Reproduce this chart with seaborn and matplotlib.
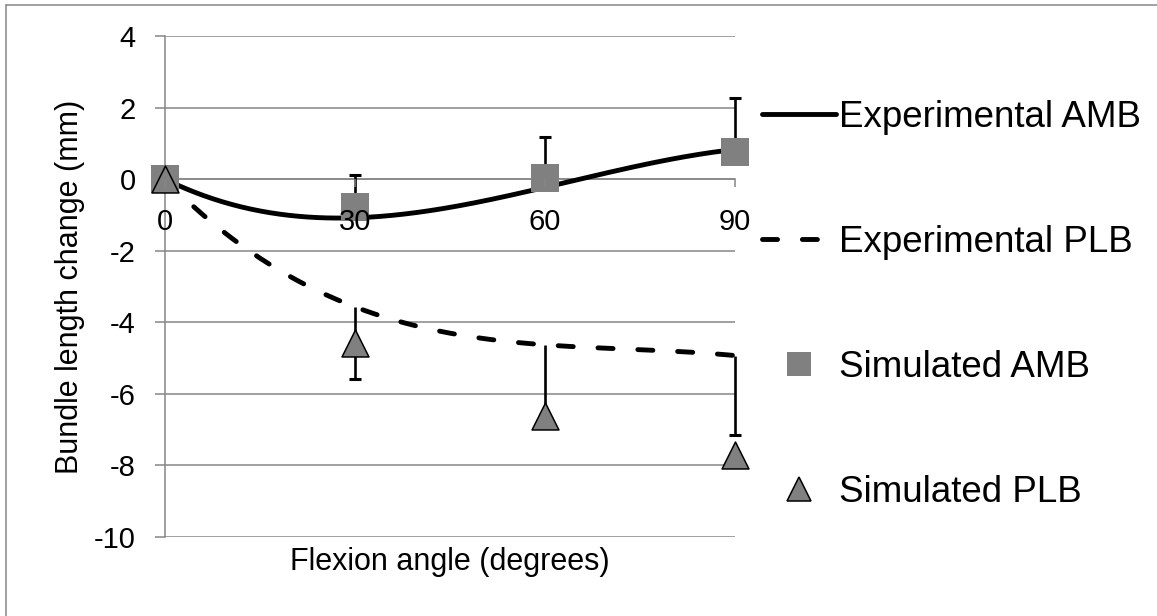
import numpy as np
import matplotlib
matplotlib.use("Agg")
import matplotlib.pyplot as plt
import seaborn as sns
from matplotlib.lines import Line2D

# ---- data ----
angles = [0, 30, 60, 90]
exp_amb = [0.0, -1.08, -0.23, 0.83]
exp_amb_err_plus = [0.0, 1.19, 1.40, 1.44]
exp_plb = [0.0, -3.57, -4.63, -4.93]
exp_plb_err_minus = [0.0, 2.02, 1.95, 2.21]
sim_amb = [0.0, -0.79, 0.02, 0.76]
sim_plb = [0.0, -4.59, -6.62, -7.71]
x_ticks = [0, 30, 60, 90]
y_ticks = [4, 2, 0, -2, -4, -6, -8, -10]
labels = ["Experimental AMB", "Experimental PLB", "Simulated AMB", "Simulated PLB"]


def smooth(x, y, n=300):
    """Smoothed rendering of a line through the given points (exact interpolating cubic)."""
    x = np.asarray(x, float)
    y = np.asarray(y, float)
    coef = np.polyfit(x, y, len(x) - 1)
    xs = np.linspace(x[0], x[-1], n)
    return xs, np.polyval(coef, xs)


sns.set_theme(style="white")
plt.rcParams["font.family"] = ["Liberation Sans", "DejaVu Sans"]
plt.rcParams["axes.unicode_minus"] = False
plt.rcParams["text.color"] = "black"

GRAY = "#868686"
MARK = "#808080"
W, H = 1157, 616
fig = plt.figure(figsize=(W / 100, H / 100), dpi=100)
fig.patch.set_facecolor("white")
ax = fig.add_axes([165 / W, 1 - 537 / H, (735 - 165) / W, (537 - 36) / H])
ax.set_facecolor("white")

LW = 3.5
DASH = (0, (3.1, 5.1))

xs, ys = smooth(angles, exp_amb)
sns.lineplot(x=xs, y=ys, ax=ax, color="black", lw=LW, sort=False, estimator=None,
             zorder=2, solid_capstyle="round")
xs, ys = smooth(angles, exp_plb)
sns.lineplot(x=xs, y=ys, ax=ax, color="black", lw=LW, sort=False, estimator=None,
             zorder=2, linestyle=DASH, dash_capstyle="round")

zeros = np.zeros(len(angles))
_, caps_a, bars_a = ax.errorbar(angles, exp_amb, yerr=[zeros, exp_amb_err_plus], fmt="none",
                                ecolor="black", elinewidth=1.9, capsize=4, capthick=2.2, zorder=2.5)
caps_a[0].set_visible(False)
_, caps_p, bars_p = ax.errorbar(angles, exp_plb, yerr=[exp_plb_err_minus, zeros], fmt="none",
                                ecolor="black", elinewidth=1.9, capsize=4, capthick=2.2, zorder=2.5)
caps_p[1].set_visible(False)
for art in list(caps_a) + list(caps_p) + list(bars_a) + list(bars_p):
    art.set_clip_on(False)

sns.scatterplot(x=angles, y=sim_amb, ax=ax, marker="s", s=20.2 ** 2, color=MARK,
                edgecolor="none", linewidth=0, zorder=3, clip_on=False)
sns.scatterplot(x=angles, y=sim_plb, ax=ax, marker="^", s=19.4 ** 2, color=MARK,
                edgecolor="black", linewidth=1.1, zorder=4, clip_on=False)
for coll in ax.collections:
    coll.set_clip_on(False)

ax.set_xlim(0, 90)
ax.set_ylim(-10, 4)
ax.set_xticks(x_ticks)
ax.set_yticks(y_ticks)
ax.set_xticklabels([str(v) for v in x_ticks])
ax.set_yticklabels([str(v) for v in y_ticks])

for side in ["top", "right"]:
    ax.spines[side].set_visible(False)
ax.spines["bottom"].set_position(("data", 0))
for side in ["left", "bottom"]:
    ax.spines[side].set_color(GRAY)
    ax.spines[side].set_linewidth(1.1)
    ax.spines[side].set_zorder(1)

ax.grid(axis="y", color=GRAY, lw=1.1)
ax.grid(axis="x", visible=False)
ax.set_axisbelow(True)
ax.xaxis.set_zorder(5)

ax.tick_params(axis="y", direction="out", length=7.2, width=1.1, color=GRAY, pad=14,
               labelsize=21, labelcolor="black", left=True)
ax.tick_params(axis="x", direction="out", length=6, width=1.1, color=GRAY, pad=15,
               labelsize=21, labelcolor="black", bottom=True)

ax.set_ylabel("Bundle length change (mm)", fontsize=22, color="black", labelpad=6)
ax.set_xlabel("Flexion angle (degrees)", fontsize=22, color="black")
ax.xaxis.set_label_coords(0.5, -0.02)

handles = [
    Line2D([], [], color="black", lw=LW, solid_capstyle="round"),
    Line2D([], [], color="black", lw=LW, linestyle=DASH, dash_capstyle="round"),
    Line2D([], [], marker="s", linestyle="none", color=MARK, markeredgewidth=0, markersize=17),
    Line2D([], [], marker="^", linestyle="none", markerfacecolor=MARK, markeredgecolor="black",
           markeredgewidth=1.1, markersize=17),
]
leg = ax.legend(handles, labels, loc="center left", bbox_to_anchor=(762 / W, 1 - 305 / H),
                bbox_transform=fig.transFigure, frameon=False, fontsize=26.5, handlelength=2.0,
                handletextpad=0.1, labelspacing=2.45, borderpad=0, borderaxespad=0)
for t in leg.get_texts():
    t.set_color("black")

# outer chart frame (only its top and left edges fall inside the picture)
fig.add_artist(Line2D([6 / W, 6 / W], [0, 1 - 5 / H], transform=fig.transFigure, color=GRAY, lw=1.1))
fig.add_artist(Line2D([6 / W, 1], [1 - 5 / H, 1 - 5 / H], transform=fig.transFigure, color=GRAY, lw=1.1))

fig.savefig("out.png", dpi=100)
